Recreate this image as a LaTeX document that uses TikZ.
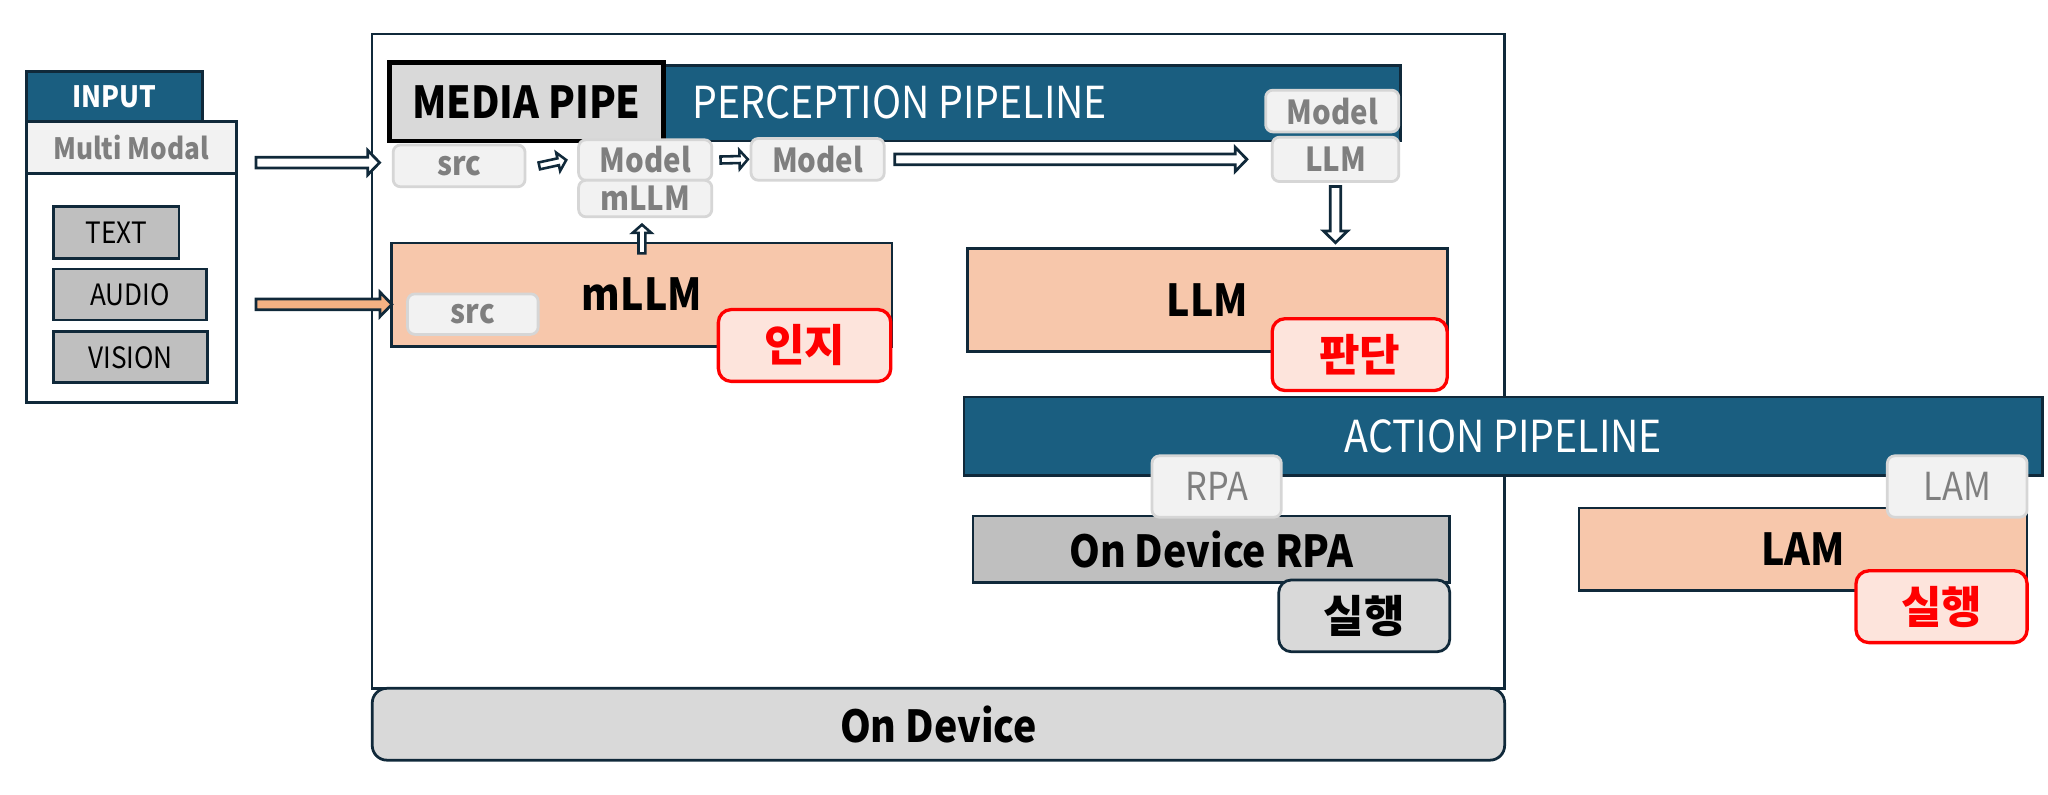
\documentclass[tikz,border=0pt]{standalone}
\usepackage{fontspec}
\setmainfont{Noto Sans CJK KR}[FakeStretch=0.89]
\newfontfamily\korfont{Noto Sans CJK KR}
\usetikzlibrary{calc}

\definecolor{pipeblue}{HTML}{1A5E80}
\definecolor{edgedark}{HTML}{10293A}
\definecolor{salmon}{HTML}{F7C7AB}
\definecolor{deepsalmon}{HTML}{F4B183}
\definecolor{softred}{HTML}{FDE4DC}
\definecolor{tagfill}{HTML}{F2F2F2}
\definecolor{tagline}{HTML}{D6D6D6}
\definecolor{tagtext}{HTML}{7F7F7F}
\definecolor{midgray}{HTML}{BFBFBF}
\definecolor{lightgray}{HTML}{D9D9D9}

\newcommand{\fsbig}{\fontsize{24}{28}\selectfont}
\newcommand{\fsmid}{\fontsize{18}{21}\selectfont}
\newcommand{\fstag}{\fontsize{21}{24}\selectfont}
\newcommand{\fssmall}{\fontsize{16}{19}\selectfont}
\newcommand{\fskor}{\korfont\fontsize{24}{28}\selectfont}

\tikzset{
  sz/.style 2 args={minimum width=#1*0.025cm, minimum height=#2*0.025cm},
  box/.style={draw=edgedark, line width=1.5pt, inner sep=0pt, outer sep=0pt},
  pipebar/.style={box, fill=pipeblue, text=white, font=\fsbig},
  orangebox/.style={box, fill=salmon, font=\fsbig\bfseries},
  graybox/.style={box, fill=midgray, font=\fssmall},
  tag/.style={draw=tagline, line width=1.5pt, fill=tagfill, rounded corners=4pt,
    text=tagtext, font=\fsmid\bfseries, inner sep=0pt},
  redtag/.style={draw=red, line width=1.8pt, fill=softred, rounded corners=7pt,
    text=red, font=\fskor\bfseries, inner sep=0pt},
  % block arrow outline: half shaft, half head, head length
  blockto/.style n args={3}{to path={
    let \p1=(\tikztostart), \p2=(\tikztotarget), \p3=($(\p2)!#3!(\p1)$) in
    ($(\p1)!#1!90:(\p2)$) -- ($(\p3)!#1!90:(\p2)$) -- ($(\p3)!#2!90:(\p2)$)
    -- (\p2) -- ($(\p3)!#2!-90:(\p2)$) -- ($(\p3)!#1!-90:(\p2)$)
    -- ($(\p1)!#1!-90:(\p2)$) -- cycle}},
  blockarrow/.style={blockto={2.9pt}{6.6pt}{6.4pt}, draw=edgedark,
    line width=1.5pt, fill=#1},
  blockarrow/.default=white,
  smallblock/.style={blockto={1.9pt}{5.1pt}{4.5pt}, draw=edgedark,
    line width=1.4pt, fill=white}
}

\begin{document}
\begin{tikzpicture}[x=0.025cm, y=-0.025cm]
        \useasboundingbox (0,0) rectangle (1568,608);

        % On Device frame
        \node[box, line width=1.3pt, fill=white, sz={867}{501}] (frame) at (718.5,276.5) {};
        \node[box, fill=lightgray, rounded corners=8pt, sz={867}{55}, font=\fsbig\bfseries] (ondev) at (718.5,554.5) {On Device};

        % Input
        \node[box, fill=white, sz={161}{215}] (inbox) at (100.5,200.5) {};
        \node[box, fill=pipeblue, text=white, sz={135}{38}, font=\fssmall\bfseries] (intab) at (87.5,74) {INPUT};
        \node[box, fill=tagfill, text=tagtext, sz={161}{40}, font=\fssmall\bfseries] (multi) at (100.5,113) {Multi Modal};
        \node[graybox, sz={96}{40}] (text) at (89,178) {TEXT};
        \node[graybox, sz={117}{39}] (audio) at (99.5,225.5) {AUDIO};
        \node[graybox, sz={118}{39}] (vision) at (100,273.5) {VISION};

        % Perception pipeline
        \node[pipebar, sz={774}{58}] (perc) at (685,79) {};
        \node[box, line width=2.5pt, draw=black, fill=lightgray, sz={210}{60}, font=\fsbig\bfseries] (media) at (403,78) {MEDIA PIPE};
        \node[anchor=west, text=white, font=\fsbig, inner sep=0pt] (perclabel) at ([xshift=15.6pt]media.east) {PERCEPTION PIPELINE};
        \node[tag, sz={101}{32}] (src1) at (351.5,127) {src};
        \node[tag, sz={102}{31}] (model1) at (494,122.5) {Model};
        \node[tag, sz={102}{28}] (mllmtag) at (494,152) {mLLM};
        \node[tag, sz={102}{32}] (model2) at (626,122) {Model};
        \node[tag, sz={102}{32}] (model3) at (1020,85) {Model};
        \node[tag, sz={97}{34}] (llmtag) at (1022.5,122) {LLM};

        % Models
        \node[orangebox, sz={383}{79}] (mllm) at (491.5,225.5) {mLLM};
        \node[tag, sz={100}{31}] (src2) at (362,240.5) {src};
        \node[redtag, sz={132}{55}] (inji) at (616,264.5) {인지};
        \node[orangebox, sz={367}{79}] (llm) at (924.5,229.5) {LLM};
        \node[redtag, sz={134}{55}] (pandan) at (1041,271.5) {판단};

        % Action pipeline
        \node[pipebar, sz={826}{60}] (action) at (1151,334) {ACTION PIPELINE};
        \node[graybox, font=\fsbig\bfseries, sz={365}{51}] (rpa) at (927.5,420.5) {On Device RPA};
        \node[tag, font=\fstag, sz={99}{47}] (rpatag) at (931.5,372.5) {RPA};
        \node[box, fill=lightgray, rounded corners=7pt, font=\fskor\bfseries, sz={131}{55}] (exec1) at (1044.5,471.5) {실행};
        \node[orangebox, sz={343}{63}] (lam) at (1380.5,420.5) {LAM};
        \node[tag, font=\fstag, sz={107}{47}] (lamtag) at (1498.5,372.5) {LAM};
        \node[redtag, sz={131}{55}] (exec2) at (1486.5,464.5) {실행};

        % Arrows
        \coordinate (in1) at (196,124.5);
        \coordinate (in2) at (196,233);
        \draw[blockarrow] (in1) to ([xshift=4pt]in1 -| frame.west);
        \draw[blockarrow=deepsalmon] (in2) to (in2 -| mllm.west);
        \draw[smallblock] ([xshift=7pt]src1.east) to ([xshift=-6pt]model1.west);
        \draw[smallblock] ([xshift=4pt]model1.east) to ([xshift=-1pt]model2.west);
        \draw[blockarrow] ([xshift=5pt]model2.east) to ([xshift=-13pt]llmtag.west);
        \draw[smallblock] ([yshift=-5.7pt]mllm.north) to ([yshift=-3.5pt]mllm.north |- mllmtag.south);
        \draw[blockarrow] ([yshift=-2pt]llmtag.south) to ([yshift=3pt]llmtag.south |- llm.north);
\end{tikzpicture}
\end{document}
